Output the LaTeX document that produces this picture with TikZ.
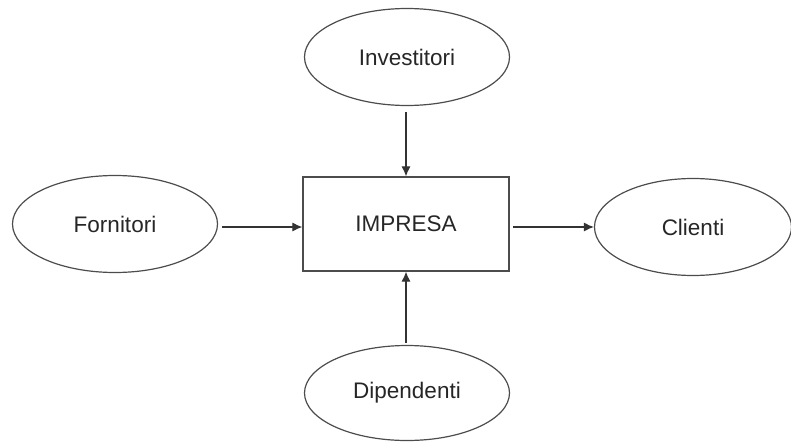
\documentclass[tikz,border=0pt]{standalone}
\usepackage{fontspec}
\setmainfont{Liberation Sans}
\usetikzlibrary{shapes.geometric,arrows.meta}
\begin{document}
\begin{tikzpicture}[x=1pt,y=-1pt,
  ell/.style={ellipse,draw=black!70,line width=1.2pt,minimum width=205pt,minimum height=97pt,inner sep=0pt,font=\fontsize{22.5}{26}\selectfont,text=black!85},
  boxnode/.style={rectangle,draw=black!70,line width=1.2pt,minimum width=206pt,minimum height=94pt,inner sep=0pt,font=\fontsize{22.5}{26}\selectfont,text=black!85},
  conn/.style={draw=black!80,line width=1.1pt,-{Latex[length=10pt,width=9pt]}}]
\useasboundingbox (0,0) rectangle (791,441);
\node[ell] (inv) at (407,57) {Investitori};
\node[ell] (forn) at (115,224) {Fornitori};
\node[ell,minimum width=197pt] (cli) at (693,227) {Clienti};
\node[ell,minimum height=95pt] (dip) at (407,393) {Dipendenti};
\node[boxnode] (imp) at (406,224) {IMPRESA};
\coordinate (invS) at (406,112);
\coordinate (dipN) at (406,343);
\coordinate (fornE) at (222,227);
\coordinate (impE) at (513,227);
\draw[conn] (invS) -- (imp.north -| invS);
\draw[conn] (dipN) -- (imp.south -| dipN);
\draw[conn] (fornE) -- (imp.west |- fornE);
\draw[conn] (impE) -- (cli.west |- impE);
\end{tikzpicture}
\end{document}
